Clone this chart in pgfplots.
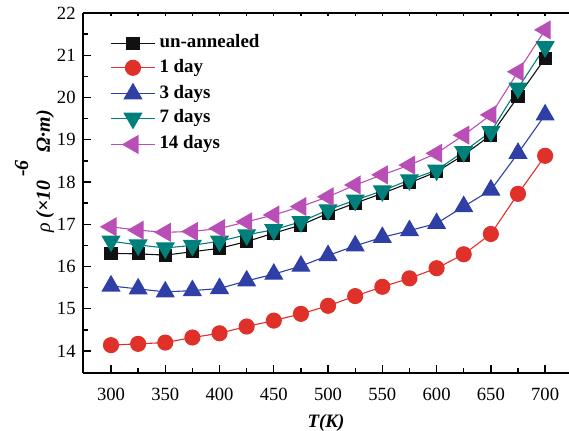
\documentclass[border=0pt]{standalone}
\usepackage{fontspec}
\setmainfont{Liberation Serif}
\usepackage{pgfplots}
\pgfplotsset{compat=1.18}
\definecolor{cBlack}{HTML}{111111}
\definecolor{cRed}{HTML}{E0302A}
\definecolor{cBlue}{HTML}{2F3FA5}
\definecolor{cTeal}{HTML}{00807A}
\definecolor{cMag}{HTML}{B94FB6}
\pgfplotsset{
  series/.style={#1,line width=1.1bp,mark options={solid,fill=#1,draw=#1}},
}
\begin{document}
\fontsize{18.7}{22}\selectfont
\begin{tikzpicture}
\begin{axis}[name=ax,
  scale only axis,width=486bp,height=360bp,
  xmin=274.2,xmax=722,ymin=13.48,ymax=22,
  axis x line=box,axis y line=left,
  axis line style={line width=1.6bp,-},
  x axis line style={-},y axis line style={-},
  xtick pos=bottom,
  xtick={300,350,...,700},minor xtick={325,375,...,675},
  ytick={14,...,22},minor ytick={13.5,14.5,...,21.5},
  tick align=inside,
  major tick length=8bp,minor tick length=5bp,
  tick style={line width=1.3bp,black},
  /pgf/number format/assume math mode=true,
  tick label style={font=\fontsize{18.7}{22}\selectfont},
  xticklabel style={yshift=-9bp},
  yticklabel style={xshift=-1bp},
  xlabel={\textbf{\textit{T(K)}}},
  xlabel style={at={(axis description cs:0.5,-0.097)},anchor=north,
    font=\fontsize{19}{22}\selectfont},
  ylabel={\textit{ρ} \textbf{\textit{(×10\,\raisebox{1.1em}{-6}\, Ω·m)}}},
  ylabel style={at={(axis description cs:-0.068,0.56)},anchor=base,
    font=\fontsize{20}{24}\selectfont},
  legend cell align=left,
  legend style={draw=none,fill=none,at={(axis description cs:0.056,0.94)},
    anchor=north west,inner sep=0pt,row sep=7.5bp,
    nodes={inner sep=0pt,text height=13bp,text depth=4bp,
      font=\fontsize{19}{22}\selectfont\bfseries}},
  legend image code/.code={
    \draw[#1,mark=none] (0bp,0bp) -- (44bp,0bp);
    \draw[#1,only marks] plot coordinates {(22bp,0bp)};
    \path (48bp,0bp);},
  mark size=6.5bp,
]
\addplot[series=cBlack,mark=square*,mark size=6bp] coordinates {
(300,16.31) (325,16.30) (350,16.27) (375,16.35) (400,16.43) (425,16.59)
(450,16.79) (475,16.98) (500,17.26) (525,17.50) (550,17.73) (575,17.98)
(600,18.24) (625,18.64) (650,19.11) (675,20.02) (700,20.93)};
\addlegendentry{un-annealed}
\addplot[series=cRed,mark=*,mark size=7.5bp] coordinates {
(300,14.14) (325,14.17) (350,14.20) (375,14.32) (400,14.42) (425,14.58)
(450,14.72) (475,14.88) (500,15.07) (525,15.30) (550,15.52) (575,15.72)
(600,15.96) (625,16.29) (650,16.77) (675,17.72) (700,18.62)};
\addlegendentry{1 day}
\addplot[series=cBlue,mark=triangle*,mark size=10bp] coordinates {
(300,15.54) (325,15.47) (350,15.40) (375,15.43) (400,15.48) (425,15.66)
(450,15.82) (475,16.01) (500,16.26) (525,16.49) (550,16.69) (575,16.85)
(600,17.02) (625,17.42) (650,17.81) (675,18.68) (700,19.59)};
\addlegendentry{3 days}
\addplot[series=cTeal,mark=triangle*,mark size=10bp,
  mark options={rotate=180}] coordinates {
(300,16.60) (325,16.51) (350,16.44) (375,16.50) (400,16.60) (425,16.75)
(450,16.87) (475,17.06) (500,17.34) (525,17.57) (550,17.79) (575,18.05)
(600,18.28) (625,18.72) (650,19.19) (675,20.22) (700,21.20)};
\addlegendentry{7 days}
\addplot[series=cMag,mark=triangle*,mark size=10bp,
  mark options={rotate=90}] coordinates {
(300,16.94) (325,16.86) (350,16.81) (375,16.83) (400,16.90) (425,17.06)
(450,17.22) (475,17.42) (500,17.65) (525,17.93) (550,18.17) (575,18.40)
(600,18.68) (625,19.11) (650,19.59) (675,20.61) (700,21.60)};
\addlegendentry{14 days}
\end{axis}
\begin{axis}[
  scale only axis,width=486bp,height=360bp,
  xmin=274.2,xmax=722,ymin=13.48,ymax=22,
  axis x line*=top,axis y line=none,
  axis line style={draw=none},
  xtick={300,325,...,700},xticklabels={},
  tick align=inside,major tick length=3bp,
  tick style={line width=1.3bp,black},
]
\end{axis}
\pgfresetboundingbox
\useasboundingbox ([xshift=-83bp,yshift=-58bp]ax.south west)
  rectangle ([yshift=13bp]ax.north east);
\end{tikzpicture}
\end{document}
